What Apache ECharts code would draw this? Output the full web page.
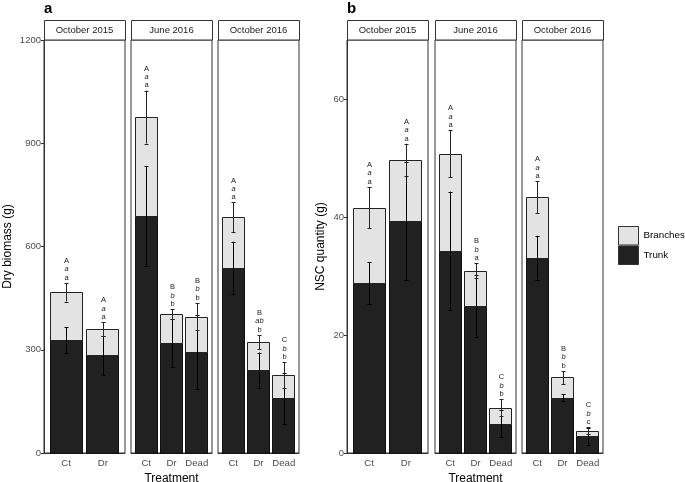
<!DOCTYPE html>
<html><head><meta charset="utf-8">
<script src="https://cdn.jsdelivr.net/npm/echarts@6/dist/echarts.min.js"></script>
<style>html,body{margin:0;padding:0;background:#fff}#c{width:685px;height:482px}</style>
</head><body><div id="c"></div>
<script>
// ---------- data ----------
const facets = ['October 2015', 'June 2016', 'October 2016'];
const treatments = [['Ct', 'Dr'], ['Ct', 'Dr', 'Dead'], ['Ct', 'Dr', 'Dead']];

// Panel a: dry biomass (g)
const biomassTrunk    = [[328, 284], [689, 320, 293], [538, 240, 159]];
const biomassTrunkErr = [[38, 57], [145, 69, 108], [76, 52, 74]];
const biomassTotal    = [[467, 360], [976, 403, 396], [685, 322, 226]];
const biomassTotalErr = [[27, 20], [77, 15, 40], [43, 21, 38]];
const biomassLetters  = [
  [['A', 'a', 'a'], ['A', 'a', 'a']],
  [['A', 'a', 'a'], ['B', 'b', 'b'], ['B', 'b', 'b']],
  [['A', 'a', 'a'], ['B', 'ab', 'b'], ['C', 'b', 'b']]
];
const biomassTicks = [0, 300, 600, 900, 1200];

// Panel b: NSC quantity (g)
const nscTrunk    = [[28.8, 39.3], [34.3, 24.9, 5.0], [33.1, 9.4, 2.8]];
const nscTrunkErr = [[3.5, 10], [10, 5.2, 2.3], [3.7, 0.6, 1.4]];
const nscTotal    = [[41.6, 49.7], [50.7, 30.9, 7.7], [43.4, 12.8, 3.8]];
const nscTotalErr = [[3.5, 2.7], [4, 1.3, 1.4], [2.7, 1.1, 0.55]];
const nscLetters  = [
  [['A', 'a', 'a'], ['A', 'a', 'a']],
  [['A', 'a', 'a'], ['B', 'b', 'a'], ['C', 'b', 'b']],
  [['A', 'a', 'a'], ['B', 'b', 'b'], ['C', 'b', 'c']]
];
const nscTicks = [0, 20, 40, 60];

// ---------- layout ----------
const FONT = '"Liberation Sans", Arial, sans-serif';
const TRUNK_COLOR = '#212121', BRANCH_COLOR = '#e3e3e3';
const panels = [
  { tag: 'a', lefts: [44, 131, 218], yMax: 1200, ticks: biomassTicks, yName: 'Dry biomass (g)', nameGap: 30,
    trunk: biomassTrunk, trunkErr: biomassTrunkErr, total: biomassTotal, totalErr: biomassTotalErr, letters: biomassLetters },
  { tag: 'b', lefts: [347, 435, 522], yMax: 70, ticks: nscTicks, yName: 'NSC quantity (g)', nameGap: 20,
    trunk: nscTrunk, trunkErr: nscTrunkErr, total: nscTotal, totalErr: nscTotalErr, letters: nscLetters }
];
const TOP = 40, H = 413, W = 81;

function barRender(params, api) {
  const x = api.value(0), lo = api.value(1), hi = api.value(2);
  const w = api.size([0.9, 0])[0];
  const a = api.coord([x, hi]), b = api.coord([x, lo]);
  return { type: 'rect',
    shape: { x: Math.round(a[0] - w / 2) + 0.5, y: Math.round(a[1]) + 0.5, width: Math.round(w) - 1, height: Math.round(b[1]) - Math.round(a[1]) },
    style: api.style() };
}

const grids = [], xAxes = [], yAxes = [], series = [], graphics = [];
let gi = 0;
panels.forEach((P, pi) => {
  graphics.push({ type: 'text', left: P.lefts[0], top: 1,
    style: { text: P.tag, font: 'bold 15px ' + FONT, fill: '#000' } });
  facets.forEach((fname, f) => {
    const n = treatments[f].length;
    const left = P.lefts[f];
    grids.push({ left: left, top: TOP, width: W, height: H, show: true, containLabel: false,
      outerBoundsMode: 'none',
      borderColor: '#333', borderWidth: 1, backgroundColor: 'transparent' });
    graphics.push({ type: 'rect', shape: { x: left + 0.5, y: 20.5, width: W, height: 19.5 },
      style: { fill: '#fff', stroke: '#333', lineWidth: 1 } });
    graphics.push({ type: 'text', x: left + W / 2, y: 30.5,
      style: { text: fname, font: '9.5px ' + FONT, fill: '#1a1a1a', align: 'center', verticalAlign: 'middle' } });
    const cats = treatments[f];
    xAxes.push({
      gridIndex: gi, type: 'value', min: 0.4, max: n + 0.6,
      axisLine: { show: true, onZero: false, lineStyle: { color: '#333', width: 1 } },
      axisTick: { show: false }, splitLine: { show: false },
      axisLabel: { customValues: cats.map((c, i) => i + 1), color: '#4d4d4d', fontSize: 9.6, margin: 5,
        formatter: v => cats[Math.round(v) - 1] || '' },
      name: f === 1 ? 'Treatment' : '', nameLocation: 'middle', nameGap: 17,
      nameTextStyle: { fontSize: 12, color: '#000' }
    });
    yAxes.push({
      gridIndex: gi, type: 'value', min: 0, max: P.yMax,
      axisLine: { show: f === 0, lineStyle: { color: '#333', width: 1 } },
      axisTick: { show: f === 0, length: 3, customValues: P.ticks, lineStyle: { color: '#333' } },
      axisLabel: { show: f === 0, customValues: P.ticks, color: '#4d4d4d', fontSize: 9.5, margin: 3,
        formatter: v => String(v) },
      splitLine: { show: false },
      name: f === 0 ? P.yName : '', nameLocation: 'middle', nameGap: P.nameGap,
      nameTextStyle: { fontSize: 12, color: '#000' }
    });
    // stacked bars: Trunk from 0 to trunk, Branches stacked on top (trunk .. total)
    series.push({
      type: 'custom', name: 'Trunk', xAxisIndex: gi, yAxisIndex: gi, silent: true,
      itemStyle: { color: TRUNK_COLOR, borderColor: '#111', borderWidth: 1 },
      data: P.trunk[f].map((v, i) => [i + 1, 0, v]),
      encode: { x: 0, y: [1, 2] },
      renderItem: barRender
    });
    series.push({
      type: 'custom', name: 'Branches', xAxisIndex: gi, yAxisIndex: gi, silent: true,
      itemStyle: { color: BRANCH_COLOR, borderColor: '#222', borderWidth: 1 },
      data: P.total[f].map((v, i) => [i + 1, P.trunk[f][i], v]),
      encode: { x: 0, y: [1, 2] },
      renderItem: barRender
    });
    const letters = P.letters[f];
    series.push({
      type: 'custom', name: 'err', xAxisIndex: gi, yAxisIndex: gi, silent: true, z: 5,
      data: P.total[f].map((v, i) => [i + 1, v, P.totalErr[f][i], P.trunk[f][i], P.trunkErr[f][i]]),
      encode: { x: 0, y: 1 },
      renderItem: function (params, api) {
        const x = api.value(0);
        const children = [];
        function eb(c, e, color) {
          const t = api.coord([x, c + e]), b = api.coord([x, c - e]);
          const cx = Math.round(t[0]) + 0.5;
          const st = { stroke: color, lineWidth: 1 };
          children.push({ type: 'line', shape: { x1: cx, y1: t[1], x2: cx, y2: b[1] }, style: st });
          children.push({ type: 'line', shape: { x1: cx - 2, y1: Math.round(t[1]) + 0.5, x2: cx + 2, y2: Math.round(t[1]) + 0.5 }, style: st });
          children.push({ type: 'line', shape: { x1: cx - 2, y1: Math.round(b[1]) + 0.5, x2: cx + 2, y2: Math.round(b[1]) + 0.5 }, style: st });
          return [cx, t[1]];
        }
        eb(api.value(3), api.value(4), '#000');
        const top = eb(api.value(1), api.value(2), '#262626');
        const L = letters[params.dataIndex];
        children.push({ type: 'text', x: top[0], y: top[1] - 1,
          style: { text: '{u|' + L[0] + '}\n{i|' + L[1] + '}\n{u|' + L[2] + '}',
            align: 'center', verticalAlign: 'bottom', fill: '#1a1a1a',
            rich: { u: { fontSize: 7.5, lineHeight: 8.4, fill: '#1a1a1a', fontFamily: FONT },
                    i: { fontSize: 7.5, lineHeight: 8.4, fill: '#1a1a1a', fontStyle: 'italic', fontFamily: FONT } } } });
        return { type: 'group', children: children };
      }
    });
    gi++;
  });
});

const chart = echarts.init(document.getElementById('c'), null, { renderer: 'canvas' });
chart.setOption({
  animation: false,
  backgroundColor: '#fff',
  textStyle: { fontFamily: FONT },
  grid: grids, xAxis: xAxes, yAxis: yAxes, series: series,
  legend: { orient: 'vertical', left: 618, top: 226, padding: 0, itemWidth: 20, itemHeight: 18.5, itemGap: 0,
    data: ['Branches', 'Trunk'], icon: 'rect', selectedMode: false,
    itemStyle: { borderColor: '#333', borderWidth: 1 },
    textStyle: { fontSize: 9.8, color: '#000' } },
  graphic: graphics
});
</script></body></html>
